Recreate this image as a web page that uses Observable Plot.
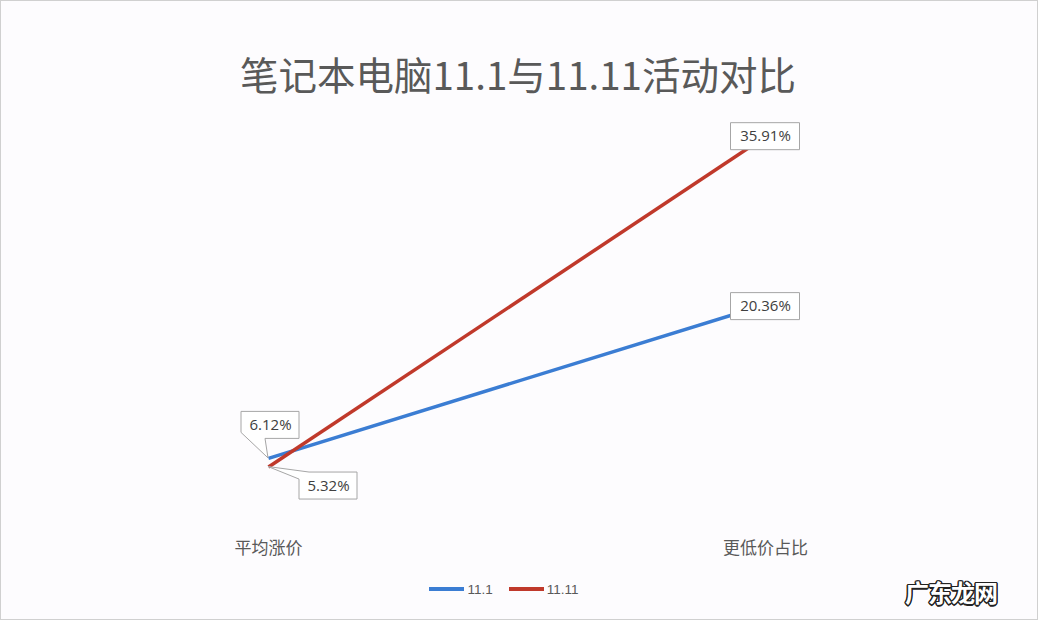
<!DOCTYPE html>
<html>
<head>
<meta charset="utf-8">
<script src="https://cdn.jsdelivr.net/npm/d3@7"></script>
<script src="https://cdn.jsdelivr.net/npm/@observablehq/plot@0.6"></script>
<style>
  html, body { margin: 0; padding: 0; background: #fdfcfe; }
  #page { position: relative; width: 1038px; height: 620px; background: #fdfcfe; overflow: hidden;
          font-family: "Noto Sans CJK SC", "Noto Sans", sans-serif; }
  #frame { position: absolute; left: 0; top: 0; width: 1036px; height: 618px; border: 1px solid #d0d0d0; pointer-events: none; }
  #title { position: absolute; left: 0; top: 50px; width: 1036px; text-align: center; font-size: 38.5px;
           line-height: 46px; color: #595959; font-weight: 400; }
  #chart { position: absolute; left: 0; top: 90px; }
  #legend { position: absolute; left: 0; top: 578px; width: 1008px; height: 22px; display: flex;
            justify-content: center; align-items: center; font-family: "Liberation Sans", sans-serif;
            font-size: 13.5px; color: #595959; }
  #legend .item { display: flex; align-items: center; margin: 0 8px; }
  #legend .sw { width: 35px; height: 3.5px; margin-right: 3px; }
  #mark { position: absolute; left: 905px; top: 574px; font-size: 24px; font-weight: 700; color: #fff;
          font-family: "Noto Sans CJK SC", sans-serif; letter-spacing: -1px;
          text-shadow: 1.5px 0 0 #222, -1.5px 0 0 #222, 0 1.5px 0 #222, 0 -1.5px 0 #222,
                       1px 1px 0 #222, -1px -1px 0 #222, 1px -1px 0 #222, -1px 1px 0 #222; }
</style>
</head>
<body>
<div id="page">
  <div id="title">笔记本电脑11.1与11.11活动对比</div>
  <div id="chart"></div>
  <div id="legend"></div>
  <div id="mark">广东龙网</div>
  <div id="frame"></div>
</div>
<script>
// ---- data ----
const categories = ["平均涨价", "更低价占比"];
const seriesNames = ["11.1", "11.11"];
const values_11_1 = [6.12, 20.36];
const values_11_11 = [5.32, 35.91];
const seriesColors = ["#3b7dd3", "#c0392b"];

// ---- table built from arrays ----
const rows = [];
[values_11_1, values_11_11].forEach((vals, s) => {
  vals.forEach((v, c) => rows.push({series: seriesNames[s], cat: categories[c], value: v, label: v.toFixed(2) + "%"}));
});

// label placement (style): offsets of callout boxes from their point, and wedge corner
const labelStyle = {
  "11.1|平均涨价":   {dx: 2,  dy: -33, wedge: "bl"},
  "11.11|平均涨价":  {dx: 60, dy: 19,  wedge: "tl"},
  "11.1|更低价占比":  {dx: 0,  dy: 2,   wedge: null},
  "11.11|更低价占比": {dx: 0,  dy: 0,   wedge: null}
};
const st = d => labelStyle[d.series + "|" + d.cat];
const boxW = d => d.label.length * 11 + 3;
const boxH = 27;

const callouts = Plot.dot(rows, {
  x: "cat", y: "value",
  render(index, scales, values) {
    const g = d3.create("svg:g");
    for (const i of index) {
      const d = rows[i], s = st(d);
      const px = values.x[i], py = values.y[i];
      const cx = px + s.dx, cy = py + s.dy, w = boxW(d);
      const x0 = cx - w / 2, x1 = cx + w / 2, y0 = cy - boxH / 2, y1 = cy + boxH / 2;
      let p;
      if (s.wedge === "bl") {
        p = `M${x0},${y0}H${x1}V${y1}H${x0 + 24}L${px},${py}L${x0},${y1 - 6}Z`;
      } else if (s.wedge === "tl") {
        p = `M${x0 + 10},${y0}H${x1}V${y1}H${x0}V${y0 + 7}L${px},${py}Z`;
      } else {
        p = `M${x0},${y0}H${x1}V${y1}H${x0}Z`;
      }
      g.append("path").attr("d", p).attr("fill", "#ffffff").attr("stroke", "#a6a6a6").attr("stroke-width", 1);
    }
    return g.node();
  }
});

const chart = Plot.plot({
  width: 1038,
  height: 480,
  marginTop: 0, marginBottom: 46, marginLeft: 0, marginRight: 0,
  style: {background: "transparent", fontFamily: "\"Noto Sans CJK SC\", sans-serif", color: "#595959"},
  x: {type: "point", domain: categories, range: [268, 765], padding: 0, axis: null},
  y: {domain: [0, 40], range: [434, 2], axis: null},
  color: {domain: seriesNames, range: seriesColors},
  marks: [
    Plot.axisX({tickSize: 0, tickPadding: 17, fontSize: 17, anchor: "bottom", label: null}),
    Plot.line(rows, {x: "cat", y: "value", z: "series", stroke: "series", strokeWidth: 3.5, strokeLinecap: "butt"}),
    callouts,
    Plot.text(rows, {x: "cat", y: "value", text: "label", fontSize: 15, fill: "#404040",
      fontFamily: "\"Open Sans\", \"Liberation Sans\", sans-serif"})
  ]
});
document.getElementById("chart").appendChild(chart);

// shift text labels into their callout boxes (per-label offsets)
d3.select(chart).selectAll("g[aria-label='text'] text").each(function(_, i) {
  const s = st(rows[i]);
  const t = d3.select(this).attr("transform") || "";
  d3.select(this).attr("transform", t + ` translate(${s.dx},${s.dy})`);
});

// legend
const legend = d3.select("#legend");
seriesNames.forEach((n, i) => {
  const it = legend.append("div").attr("class", "item");
  it.append("div").attr("class", "sw").style("background", seriesColors[i]);
  it.append("span").text(n);
});
</script>
</body>
</html>
